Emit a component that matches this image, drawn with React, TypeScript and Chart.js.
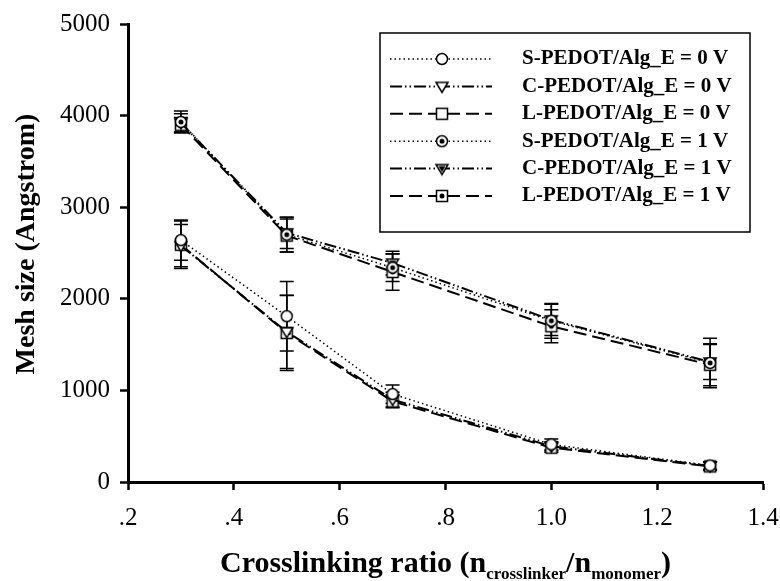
import React, { useEffect, useRef } from "react";
import { Chart, registerables } from "chart.js";

Chart.register(...registerables);

// ---------- data ----------
const xValues = [0.3, 0.5, 0.7, 1.0, 1.3];
const xTickValues = [0.2, 0.4, 0.6, 0.8, 1.0, 1.2, 1.4];
const xTickLabels = [".2", ".4", ".6", ".8", "1.0", "1.2", "1.4"];
const yTickValues = [0, 1000, 2000, 3000, 4000, 5000];
const yTickLabels = ["0", "1000", "2000", "3000", "4000", "5000"];

const seriesNames = [
  "S-PEDOT/Alg_E = 0 V",
  "C-PEDOT/Alg_E = 0 V",
  "L-PEDOT/Alg_E = 0 V",
  "S-PEDOT/Alg_E = 1 V",
  "C-PEDOT/Alg_E = 1 V",
  "L-PEDOT/Alg_E = 1 V",
];

const sPedot0V = [2640, 1810, 960, 410, 180];
const sPedot0VErr = [220, 380, 100, 60, 40];
const cPedot0V = [2580, 1640, 900, 390, 175];
const cPedot0VErr = [230, 400, 80, 50, 40];
const lPedot0V = [2590, 1627, 880, 375, 170];
const lPedot0VErr = [260, 410, 70, 50, 45];
const sPedot1V = [3930, 2700, 2340, 1760, 1300];
const sPedot1VErr = [120, 190, 150, 190, 270];
const cPedot1V = [3920, 2720, 2390, 1770, 1310];
const cPedot1VErr = [100, 170, 130, 170, 190];
const lPedot1V = [3900, 2690, 2293, 1700, 1280];
const lPedot1VErr = [80, 180, 200, 180, 230];

const xTitleParts = ["Crosslinking ratio (n", "crosslinker", "/n", "monomer", ")"];
const yTitle = "Mesh size (Angstrom)";

const seriesValues = [sPedot0V, cPedot0V, lPedot0V, sPedot1V, cPedot1V, lPedot1V];
const seriesErrors = [sPedot0VErr, cPedot0VErr, lPedot0VErr, sPedot1VErr, cPedot1VErr, lPedot1VErr];

// ---------- styles ----------
const SERIF = '"Liberation Serif", "Times New Roman", serif';
const dashStyles: number[][] = [
  [1.5, 3],
  [12, 3, 1.5, 3, 1.5, 3],
  [13, 6],
  [1.5, 3],
  [12, 3, 1.5, 3, 1.5, 3],
  [13, 6],
];
const lineWidths = [1.5, 2, 2, 1.5, 2, 2];
const shapes = ["circle", "triangle", "square", "circle", "triangle", "square"];
const dotted = [false, false, false, true, true, true];

function makeMarker(shape: string, dot: boolean): HTMLCanvasElement {
  const size = 16;
  const c = document.createElement("canvas");
  c.width = size;
  c.height = size;
  const g = c.getContext("2d")!;
  const m = size / 2;
  g.lineWidth = 1.5;
  g.strokeStyle = "#000";
  g.fillStyle = "#fff";
  g.beginPath();
  if (shape === "circle") g.arc(m, m, 5.5, 0, Math.PI * 2);
  else if (shape === "square") g.rect(m - 5.5, m - 5.5, 11, 11);
  else {
    g.moveTo(m - 6, m - 4);
    g.lineTo(m + 6, m - 4);
    g.lineTo(m, m + 6);
    g.closePath();
  }
  g.fill();
  g.stroke();
  if (dot) {
    g.fillStyle = "#000";
    g.beginPath();
    if (shape === "triangle") {
      g.moveTo(m - 3.5, m - 2.5);
      g.lineTo(m + 3.5, m - 2.5);
      g.lineTo(m, m + 3.5);
      g.closePath();
    } else {
      g.arc(m, m, 2.5, 0, Math.PI * 2);
    }
    g.fill();
  }
  return c;
}

const errorBarPlugin = {
  id: "errorBars",
  beforeDatasetsDraw(chart: any) {
    const { ctx } = chart;
    const x = chart.scales.x;
    const y = chart.scales.y;
    ctx.save();
    ctx.strokeStyle = "#000";
    ctx.lineWidth = 1.5;
    ctx.setLineDash([]);
    seriesValues.forEach((vals, di) => {
      const errs = seriesErrors[di];
      vals.forEach((v, i) => {
        const px = x.getPixelForValue(xValues[i]);
        const top = y.getPixelForValue(v + errs[i]);
        const bot = y.getPixelForValue(v - errs[i]);
        ctx.beginPath();
        ctx.moveTo(px, top);
        ctx.lineTo(px, bot);
        ctx.moveTo(px - 7, top);
        ctx.lineTo(px + 7, top);
        ctx.moveTo(px - 7, bot);
        ctx.lineTo(px + 7, bot);
        ctx.stroke();
      });
    });
    ctx.restore();
  },
};

const decorPlugin = {
  id: "decor",
  afterDraw(chart: any) {
    const { ctx, chartArea } = chart;
    ctx.save();
    ctx.fillStyle = "#000";
    ctx.setLineDash([]);

    // legend
    const lx = 380, ly = 33, lw = 370, lh = 199;
    ctx.fillStyle = "#fff";
    ctx.fillRect(lx, ly, lw, lh);
    ctx.strokeStyle = "#000";
    ctx.lineWidth = 1.5;
    ctx.strokeRect(lx, ly, lw, lh);
    chart.data.datasets.forEach((ds: any, i: number) => {
      const ry = 59 + i * 27.4;
      ctx.save();
      ctx.strokeStyle = "#000";
      ctx.lineWidth = ds.borderWidth;
      ctx.setLineDash(ds.borderDash);
      ctx.beginPath();
      ctx.moveTo(390, ry);
      ctx.lineTo(492, ry);
      ctx.stroke();
      ctx.restore();
      const img = ds.pointStyle as HTMLCanvasElement;
      ctx.drawImage(img, 442 - img.width / 2, ry - img.height / 2);
      ctx.fillStyle = "#000";
      ctx.font = `bold 21px ${SERIF}`;
      ctx.textAlign = "left";
      ctx.textBaseline = "middle";
      ctx.fillText(ds.label, 522, ry);
    });

    // y title
    ctx.save();
    ctx.translate(27, 244);
    ctx.rotate(-Math.PI / 2);
    ctx.font = `bold 28px ${SERIF}`;
    ctx.textAlign = "center";
    ctx.textBaseline = "middle";
    ctx.fillStyle = "#000";
    ctx.fillText(yTitle, 0, 0);
    ctx.restore();

    // x title with subscripts
    const mainFont = `bold 30px ${SERIF}`;
    const subFont = `bold 17px ${SERIF}`;
    const fonts = [mainFont, subFont, mainFont, subFont, mainFont];
    const widths = xTitleParts.map((t, i) => {
      ctx.font = fonts[i];
      return ctx.measureText(t).width;
    });
    const total = widths.reduce((a, b) => a + b, 0);
    let cx = (chartArea.left + chartArea.right) / 2 - total / 2;
    ctx.textAlign = "left";
    ctx.textBaseline = "alphabetic";
    xTitleParts.forEach((t, i) => {
      ctx.font = fonts[i];
      ctx.fillText(t, cx, i % 2 === 1 ? 579 : 572);
      cx += widths[i];
    });
    ctx.restore();
  },
};

export default function App() {
  const ref = useRef<HTMLCanvasElement | null>(null);
  useEffect(() => {
    if (!ref.current) return;
    const datasets = seriesNames.map((name, i) => ({
      label: name,
      data: xValues.map((xv, j) => ({ x: xv, y: seriesValues[i][j] })),
      borderColor: "#000",
      backgroundColor: "#fff",
      borderWidth: lineWidths[i],
      borderDash: dashStyles[i],
      pointStyle: makeMarker(shapes[i], dotted[i]),
      pointRadius: 6,
      fill: false,
      tension: 0,
    }));
    const tickFont = { family: SERIF, size: 25 };
    const chart = new Chart(ref.current, {
      type: "line",
      data: { datasets },
      options: {
        animation: false,
        responsive: false,
        layout: { padding: { top: 24, right: 17, left: 0, bottom: 0 } },
        plugins: { legend: { display: false }, tooltip: { enabled: false } },
        scales: {
          x: {
            type: "linear",
            min: 0.2,
            max: 1.4,
            afterBuildTicks: (s: any) => {
              s.ticks = xTickValues.map((v) => ({ value: v }));
            },
            afterFit: (s: any) => {
              s.height = 99;
              s.paddingLeft = 0;
              s.paddingRight = 0;
            },
            ticks: {
              font: tickFont,
              color: "#000",
              padding: 13,
              maxRotation: 0,
              autoSkip: false,
              callback: (_v: any, i: number) => xTickLabels[i],
            },
            grid: {
              display: true,
              drawOnChartArea: false,
              drawTicks: true,
              tickLength: 8,
              tickWidth: 2.5,
              tickColor: "#000",
            },
            border: { display: true, color: "#000", width: 3 },
          },
          y: {
            type: "linear",
            min: 0,
            max: 5000,
            afterBuildTicks: (s: any) => {
              s.ticks = yTickValues.map((v) => ({ value: v }));
            },
            afterFit: (s: any) => {
              s.width = 128;
              s.paddingTop = 0;
              s.paddingBottom = 0;
            },
            ticks: {
              font: tickFont,
              color: "#000",
              padding: 10,
              autoSkip: false,
              callback: (_v: any, i: number) => yTickLabels[i],
            },
            grid: {
              display: true,
              drawOnChartArea: false,
              drawTicks: true,
              tickLength: 8,
              tickWidth: 2.5,
              tickColor: "#000",
            },
            border: { display: true, color: "#000", width: 3 },
          },
        },
      } as any,
      plugins: [errorBarPlugin, decorPlugin],
    });
    return () => chart.destroy();
  }, []);
  return (
    <div style={{ position: "fixed", left: 0, top: 0, width: 780, height: 581, background: "#fff" }}>
      <canvas ref={ref} width={780} height={581} style={{ display: "block" }} />
    </div>
  );
}
